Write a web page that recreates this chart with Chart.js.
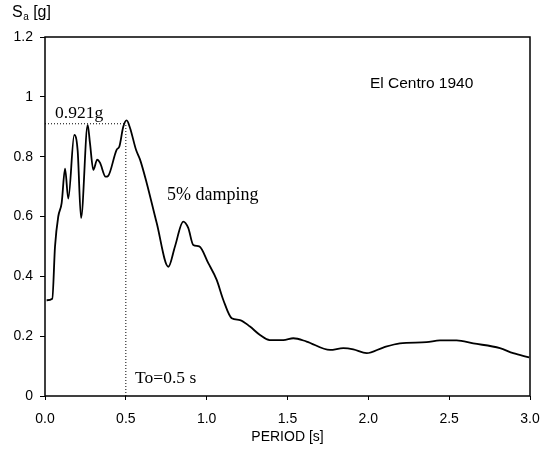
<!DOCTYPE html>
<html>
<head>
<meta charset="utf-8">
<script src="https://cdn.jsdelivr.net/npm/chart.js@4/dist/chart.umd.min.js"></script>
<style>
html,body{margin:0;padding:0;background:#fff;}
#wrap{width:553px;height:450px;}
</style>
</head>
<body>
<div id="wrap"><canvas id="c" width="553" height="450"></canvas></div>
<script>
// Data
const periods = [0.01,0.045,0.062,0.082,0.103,0.124,0.144,0.181,0.202,0.223,0.264,0.278,0.299,0.323,0.34,0.375,0.391,0.443,0.46,0.484,0.505,0.526,0.563,0.588,0.629,0.691,0.763,0.804,0.855,0.886,0.917,0.954,1.01,1.062,1.103,1.155,1.206,1.268,1.33,1.39,1.474,1.536,1.618,1.763,1.845,1.907,1.99,2.092,2.195,2.36,2.443,2.546,2.649,2.814,2.896,2.995];
const sa = [0.32,0.325,0.50,0.60,0.645,0.76,0.66,0.873,0.82,0.595,0.906,0.846,0.756,0.79,0.78,0.733,0.736,0.823,0.834,0.90,0.921,0.896,0.823,0.79,0.712,0.578,0.432,0.50,0.583,0.562,0.505,0.50,0.444,0.388,0.321,0.26,0.254,0.232,0.204,0.187,0.187,0.193,0.182,0.154,0.16,0.156,0.143,0.162,0.176,0.18,0.186,0.186,0.176,0.16,0.143,0.129];
const xTickLabels = ['0.0','0.5','1.0','1.5','2.0','2.5','3.0'];
const yTickLabels = ['0','0.2','0.4','0.6','0.8','1','1.2'];
const peakPeriod = 0.5;
const peakLevel = 0.91;
const annotations = [
  {text:'0.921g', x:0.062, y:0.93, font:'17.5px "Liberation Serif"'},
  {text:'El Centro 1940', x:2.01, y:1.03, font:'15.5px "Liberation Sans"'},
  {text:'5% damping', x:0.754, y:0.655, font:'18px "Liberation Serif"'},
  {text:'To=0.5 s', x:0.557, y:0.043, font:'17.5px "Liberation Serif"'}
];

const curve = periods.map((p,i)=>({x:p,y:sa[i]}));

const textPlugin = {
  id:'texts',
  afterDatasetsDraw(chart){
    const {ctx, chartArea:a, scales:{x,y}} = chart;
    ctx.save();
    // frame
    ctx.strokeStyle = '#000';
    ctx.lineWidth = 1.5;
    ctx.strokeRect(a.left, a.top, a.right-a.left, a.bottom-a.top);
    ctx.fillStyle = '#000';
    ctx.textBaseline = 'alphabetic';
    ctx.textAlign = 'left';
    annotations.forEach(t=>{
      ctx.font = t.font;
      ctx.fillText(t.text, x.getPixelForValue(t.x), y.getPixelForValue(t.y));
    });
    // y axis title S_a [g]
    ctx.font = '16px "Liberation Sans"';
    ctx.fillText('S', 12, 17);
    let w = ctx.measureText('S').width;
    ctx.font = '10px "Liberation Sans"';
    ctx.fillText('a', 12 + w + 0.5, 20);
    let w2 = ctx.measureText('a').width;
    ctx.font = '16px "Liberation Sans"';
    ctx.fillText(' [g]', 12 + w + w2 + 0.5, 17);
    ctx.restore();
  }
};

new Chart(document.getElementById('c'), {
  type:'line',
  data:{
    datasets:[
      {data:curve, borderColor:'#000', borderWidth:1.8, pointRadius:0, fill:false, cubicInterpolationMode:'monotone'},
      {data:[{x:0,y:peakLevel},{x:peakPeriod,y:peakLevel}], borderColor:'#000', borderWidth:1, borderDash:[1,2], pointRadius:0, fill:false},
      {data:[{x:peakPeriod,y:0},{x:peakPeriod,y:peakLevel}], borderColor:'#000', borderWidth:1, borderDash:[1,2], pointRadius:0, fill:false}
    ]
  },
  options:{
    responsive:false,
    animation:false,
    layout:{padding:{left:0,right:23,top:37,bottom:0}},
    plugins:{legend:{display:false}, tooltip:{enabled:false}},
    scales:{
      x:{
        type:'linear', min:0, max:3,
        border:{display:false},
        grid:{drawOnChartArea:false, drawTicks:true, tickLength:4, color:'#000'},
        ticks:{stepSize:0.5, padding:11, color:'#000', font:{family:'"Liberation Sans"', size:14},
          maxRotation:0, callback:(v,i)=>xTickLabels[i]},
        title:{display:true, text:'PERIOD [s]', color:'#000', font:{family:'"Liberation Sans"', size:14}, padding:{top:0,bottom:4}},
        afterFit(s){ s.height = 54; }
      },
      y:{
        min:0, max:1.2,
        border:{display:false},
        grid:{drawOnChartArea:false, drawTicks:true, tickLength:5, color:'#000'},
        ticks:{stepSize:0.2, padding:7, color:'#000', font:{family:'"Liberation Sans"', size:14},
          callback:(v,i)=>yTickLabels[i]},
        afterFit(s){ s.width = 45; }
      }
    }
  },
  plugins:[textPlugin]
});
</script>
</body>
</html>
